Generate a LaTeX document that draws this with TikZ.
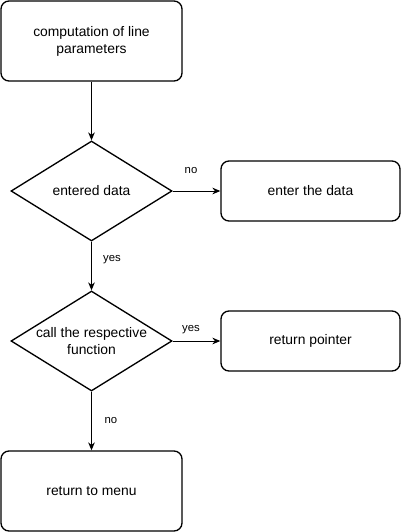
\documentclass[tikz,border=0pt]{standalone}
\usepackage{fontspec}
\setmainfont{Liberation Sans}
\usetikzlibrary{shapes.geometric,arrows.meta}
\begin{document}
\begin{tikzpicture}[x=0.75pt,y=-0.75pt,
  procbox/.style={draw,line width=1pt,rounded corners=6pt,align=center,inner sep=0pt,font=\fontsize{10.4}{12.75}\selectfont},
  decbox/.style={draw,line width=1pt,diamond,aspect=1.61,minimum width=120.75pt,minimum height=75pt,inner sep=0pt,align=center,font=\fontsize{10.4}{12.75}\selectfont},
  conn/.style={draw,line width=0.75pt,-{Stealth[length=6pt,width=5pt]}},
  lbl/.style={font=\fontsize{8.5}{10}\selectfont,inner sep=0pt}]
\useasboundingbox (0,0) rectangle (402,532);
\node[procbox,minimum width=135.75pt,minimum height=60pt] (start) at (91.5,41) {computation of line\\parameters};
\node[decbox] (d1) at (91.5,191) {entered data};
\node[procbox,minimum width=134.25pt,minimum height=45pt] (enter) at (310.5,191) {enter the data};
\node[decbox] (d2) at (91.5,341) {call the respective\\function};
\node[procbox,minimum width=134.25pt,minimum height=45pt] (ret) at (310.5,341) {return pointer};
\node[procbox,minimum width=135.75pt,minimum height=60pt] (menu) at (91.5,491) {return to menu};
\draw[conn] (start) -- (d1);
\draw[conn] (d1) -- (enter);
\draw[conn] (d1) -- (d2);
\draw[conn] (d2) -- (ret);
\draw[conn] (d2) -- (menu);
\node[lbl] (l1) at (191,171) {no};
\node[lbl] (l2) at (112,260) {yes};
\node[lbl] (l3) at (191,330) {yes};
\node[lbl] (l4) at (111,421) {no};
\end{tikzpicture}
\end{document}
